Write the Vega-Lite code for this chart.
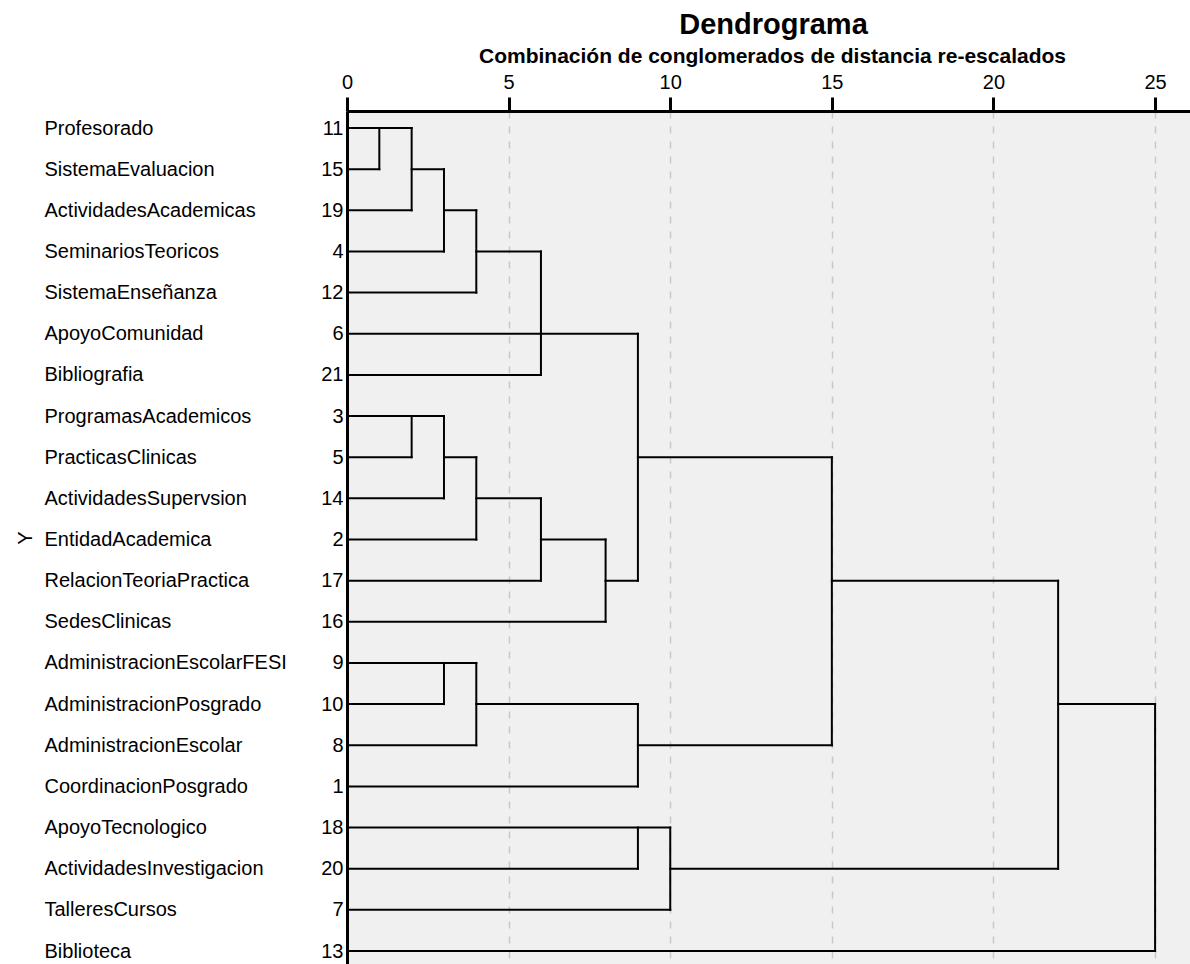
{
  "$schema": "https://vega.github.io/schema/vega-lite/v6.json",
  "autosize": {"type": "none"},
  "padding": {"left": 347, "top": 111, "right": 0, "bottom": 0},
  "width": 843,
  "height": 853,
  "config": {
    "font": "Liberation Sans",
    "view": {"fill": "#f0f0f0", "stroke": null},
    "axis": {"labelColor": "#000000", "titleColor": "#000000", "labelFont": "Liberation Sans", "titleFont": "Liberation Sans"}
  },
  "title": {"text": "Dendrograma", "font": "Liberation Sans", "fontSize": 29, "fontWeight": "bold", "color": "#000000", "anchor": "middle", "offset": 5, "dx": 5},
  "datasets": {
    "leaves": [
      {"row": 1, "name": "Profesorado", "num": "11"},
      {"row": 2, "name": "SistemaEvaluacion", "num": "15"},
      {"row": 3, "name": "ActividadesAcademicas", "num": "19"},
      {"row": 4, "name": "SeminariosTeoricos", "num": "4"},
      {"row": 5, "name": "SistemaEnseñanza", "num": "12"},
      {"row": 6, "name": "ApoyoComunidad", "num": "6"},
      {"row": 7, "name": "Bibliografia", "num": "21"},
      {"row": 8, "name": "ProgramasAcademicos", "num": "3"},
      {"row": 9, "name": "PracticasClinicas", "num": "5"},
      {"row": 10, "name": "ActividadesSupervsion", "num": "14"},
      {"row": 11, "name": "EntidadAcademica", "num": "2"},
      {"row": 12, "name": "RelacionTeoriaPractica", "num": "17"},
      {"row": 13, "name": "SedesClinicas", "num": "16"},
      {"row": 14, "name": "AdministracionEscolarFESI", "num": "9"},
      {"row": 15, "name": "AdministracionPosgrado", "num": "10"},
      {"row": 16, "name": "AdministracionEscolar", "num": "8"},
      {"row": 17, "name": "CoordinacionPosgrado", "num": "1"},
      {"row": 18, "name": "ApoyoTecnologico", "num": "18"},
      {"row": 19, "name": "ActividadesInvestigacion", "num": "20"},
      {"row": 20, "name": "TalleresCursos", "num": "7"},
      {"row": 21, "name": "Biblioteca", "num": "13"}
    ],
    "segments": [
      {"d1": 0, "d2": 2, "r1": 1, "r2": 1},
      {"d1": 0, "d2": 1, "r1": 2, "r2": 2},
      {"d1": 2, "d2": 3, "r1": 2, "r2": 2},
      {"d1": 0, "d2": 2, "r1": 3, "r2": 3},
      {"d1": 3, "d2": 4, "r1": 3, "r2": 3},
      {"d1": 0, "d2": 3, "r1": 4, "r2": 4},
      {"d1": 4, "d2": 6, "r1": 4, "r2": 4},
      {"d1": 0, "d2": 4, "r1": 5, "r2": 5},
      {"d1": 0, "d2": 9, "r1": 6, "r2": 6},
      {"d1": 0, "d2": 6, "r1": 7, "r2": 7},
      {"d1": 0, "d2": 3, "r1": 8, "r2": 8},
      {"d1": 0, "d2": 2, "r1": 9, "r2": 9},
      {"d1": 3, "d2": 4, "r1": 9, "r2": 9},
      {"d1": 9, "d2": 15, "r1": 9, "r2": 9},
      {"d1": 0, "d2": 3, "r1": 10, "r2": 10},
      {"d1": 4, "d2": 6, "r1": 10, "r2": 10},
      {"d1": 0, "d2": 4, "r1": 11, "r2": 11},
      {"d1": 6, "d2": 8, "r1": 11, "r2": 11},
      {"d1": 0, "d2": 6, "r1": 12, "r2": 12},
      {"d1": 8, "d2": 9, "r1": 12, "r2": 12},
      {"d1": 15, "d2": 22, "r1": 12, "r2": 12},
      {"d1": 0, "d2": 8, "r1": 13, "r2": 13},
      {"d1": 0, "d2": 4, "r1": 14, "r2": 14},
      {"d1": 0, "d2": 3, "r1": 15, "r2": 15},
      {"d1": 4, "d2": 9, "r1": 15, "r2": 15},
      {"d1": 22, "d2": 25, "r1": 15, "r2": 15},
      {"d1": 0, "d2": 4, "r1": 16, "r2": 16},
      {"d1": 9, "d2": 15, "r1": 16, "r2": 16},
      {"d1": 0, "d2": 9, "r1": 17, "r2": 17},
      {"d1": 0, "d2": 10, "r1": 18, "r2": 18},
      {"d1": 0, "d2": 9, "r1": 19, "r2": 19},
      {"d1": 10, "d2": 22, "r1": 19, "r2": 19},
      {"d1": 0, "d2": 10, "r1": 20, "r2": 20},
      {"d1": 0, "d2": 25, "r1": 21, "r2": 21},
      {"d1": 1, "d2": 1, "r1": 1, "r2": 2},
      {"d1": 2, "d2": 2, "r1": 1, "r2": 3},
      {"d1": 3, "d2": 3, "r1": 2, "r2": 4},
      {"d1": 4, "d2": 4, "r1": 3, "r2": 5},
      {"d1": 6, "d2": 6, "r1": 4, "r2": 7},
      {"d1": 9, "d2": 9, "r1": 6, "r2": 12},
      {"d1": 2, "d2": 2, "r1": 8, "r2": 9},
      {"d1": 3, "d2": 3, "r1": 8, "r2": 10},
      {"d1": 4, "d2": 4, "r1": 9, "r2": 11},
      {"d1": 6, "d2": 6, "r1": 10, "r2": 12},
      {"d1": 8, "d2": 8, "r1": 11, "r2": 13},
      {"d1": 3, "d2": 3, "r1": 14, "r2": 15},
      {"d1": 4, "d2": 4, "r1": 14, "r2": 16},
      {"d1": 9, "d2": 9, "r1": 15, "r2": 17},
      {"d1": 15, "d2": 15, "r1": 9, "r2": 16},
      {"d1": 9, "d2": 9, "r1": 18, "r2": 19},
      {"d1": 10, "d2": 10, "r1": 18, "r2": 20},
      {"d1": 22, "d2": 22, "r1": 12, "r2": 19},
      {"d1": 25, "d2": 25, "r1": 15, "r2": 21}
    ]
  },
  "resolve": {"scale": {"y": "independent"}, "axis": {"y": "independent"}},
  "layer": [
    {
      "data": {"name": "segments"},
      "mark": {"type": "rule", "color": "#000000", "strokeWidth": 2, "strokeCap": "square"},
      "encoding": {
        "x": {
          "field": "d1", "type": "quantitative",
          "scale": {"domain": [0, 26.08], "nice": false, "zero": false},
          "axis": {
            "orient": "top", "values": [0, 5, 10, 15, 20, 25],
            "title": "Combinación de conglomerados de distancia re-escalados",
            "titleFontSize": 21, "titleFontWeight": "bold", "titlePadding": 6, "titleX": 425,
            "labelFontSize": 20, "labelPadding": 5, "labelFlush": false,
            "tickSize": 14, "tickWidth": 3, "tickColor": "#000000",
            "domainWidth": 3, "domainColor": "#000000",
            "grid": true, "gridDash": [7, 8], "gridColor": "#c8c8c8", "gridWidth": 1.5
          }
        },
        "x2": {"field": "d2"},
        "y": {"field": "r1", "type": "ordinal", "scale": {"type": "point", "padding": 0.3645, "align": 0.567}, "axis": null},
        "y2": {"field": "r2"}
      }
    },
    {
      "data": {"name": "leaves"},
      "mark": {"type": "point", "opacity": 0},
      "encoding": {
        "y": {
          "field": "num", "type": "nominal", "sort": {"field": "row", "op": "min"},
          "scale": {"type": "point", "padding": 0.3645, "align": 0.567},
          "axis": {"orient": "left", "title": null, "ticks": false, "labelFontSize": 20, "labelPadding": 4, "domainWidth": 3, "domainColor": "#000000", "grid": false}
        }
      }
    },
    {
      "data": {"name": "leaves"},
      "mark": {"type": "point", "opacity": 0},
      "encoding": {
        "y": {
          "field": "name", "type": "nominal", "sort": {"field": "row", "op": "min"},
          "scale": {"type": "point", "padding": 0.3645, "align": 0.567},
          "axis": {"orient": "left", "offset": 303, "title": "Y", "titleFontSize": 20, "titleFontWeight": "normal", "titlePadding": 9, "ticks": false, "domain": false, "labelAlign": "left", "labelPadding": 0, "labelFontSize": 20, "labelLimit": 0, "grid": false}
        }
      }
    }
  ]
}
